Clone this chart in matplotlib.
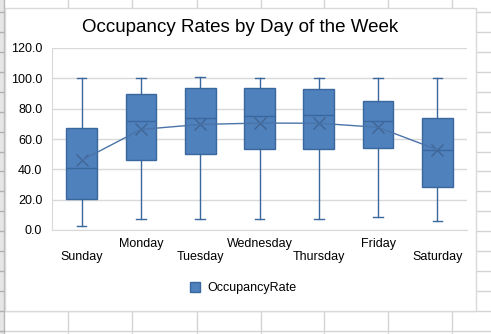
import matplotlib.pyplot as plt
import numpy as np
from matplotlib.lines import Line2D
from matplotlib.patches import Rectangle, Patch

plt.rcParams['font.family'] = ['Liberation Sans', 'DejaVu Sans']

# Data
days = ["Sunday", "Monday", "Tuesday", "Wednesday", "Thursday", "Friday", "Saturday"]
whisker_low = [2.4, 7.2, 7.2, 7.2, 7.2, 8.3, 5.7]
q1 = [20.6, 45.9, 49.9, 53.2, 53.2, 53.8, 28.1]
median = [40.7, 71.6, 73.6, 75.1, 75.6, 71.6, 52.5]
q3 = [67.0, 89.4, 93.4, 93.4, 92.7, 85.0, 73.6]
whisker_high = [100.0, 100.0, 100.6, 100.0, 100.0, 100.0, 100.0]
mean = [45.9, 66.3, 69.6, 70.5, 70.4, 67.7, 52.9]

W, H = 491, 334
fig = plt.figure(figsize=(W / 100, H / 100), dpi=100)


def fx(x):
    return x / W


def fy(y):
    return 1 - y / H


# spreadsheet grid behind the chart
grid_c = "#d4d4d4"
for x in [68, 132, 197, 261, 324, 388, 452]:
    fig.add_artist(Line2D([fx(x), fx(x)], [0, 1], color=grid_c, lw=1,
                          transform=fig.transFigure, zorder=-3))
for y in np.arange(12, 340, 19.93):
    fig.add_artist(Line2D([0, 1], [fy(y), fy(y)], color=grid_c, lw=1,
                          transform=fig.transFigure, zorder=-3))
fig.add_artist(Rectangle((0, 0), fx(4), 1, facecolor="#e6e6e6", edgecolor="none",
                         transform=fig.transFigure, zorder=-2.5))
fig.add_artist(Line2D([fx(4), fx(4)], [0, 1], color="#b8b8b8", lw=1,
                      transform=fig.transFigure, zorder=-2.4))
for y in np.arange(12, 340, 19.93):
    fig.add_artist(Line2D([0, fx(4)], [fy(y), fy(y)], color="#b0b0b0", lw=1,
                          transform=fig.transFigure, zorder=-2.3))

# chart area
fig.add_artist(Rectangle((fx(5), fy(311)), fx(476) - fx(5), fy(7.5) - fy(311),
                         facecolor="white", edgecolor="#d9d9d9", lw=1,
                         transform=fig.transFigure, zorder=-1))

ax = fig.add_axes([fx(52), fy(230), fx(467) - fx(52), fy(48) - fy(230)])
ax.set_facecolor("none")

box_c = "#4f81bd"
edge_c = "#3a679c"
x = np.arange(len(days))

stats = []
for i in range(len(days)):
    stats.append({"whislo": whisker_low[i], "q1": q1[i], "med": median[i],
                  "q3": q3[i], "whishi": whisker_high[i], "mean": mean[i],
                  "fliers": []})

ax.bxp(stats, positions=x, widths=0.52, patch_artist=True, showmeans=True,
       showfliers=False, capwidths=0.16,
       boxprops=dict(facecolor=box_c, edgecolor=edge_c, lw=1),
       whiskerprops=dict(color=edge_c, lw=1),
       capprops=dict(color=edge_c, lw=1),
       medianprops=dict(color=edge_c, lw=1),
       meanprops=dict(marker="x", markersize=9, markeredgecolor="#3f6596",
                      markeredgewidth=1, linestyle="none"),
       zorder=3)
ax.plot(x, mean, color="#4a74a8", lw=1, zorder=4)

ax.set_xlim(-0.5, 6.5)
ax.set_ylim(0, 120)
ax.set_yticks(np.arange(0, 121, 20))
ax.set_yticklabels([f"{v:.1f}" for v in np.arange(0, 121, 20)])
ax.set_xticks(x)
ax.set_xticklabels([("\n" + d) if i % 2 == 0 else d for i, d in enumerate(days)])
ax.tick_params(axis="both", length=0, labelsize=9, colors="black")
ax.tick_params(axis="y", pad=7)
ax.tick_params(axis="x", pad=5.5)
ax.grid(axis="y", color="#d9d9d9", lw=1, zorder=0)
ax.set_axisbelow(True)
for s in ["top", "right"]:
    ax.spines[s].set_visible(False)
for s in ["left", "bottom"]:
    ax.spines[s].set_color("#d9d9d9")

fig.text(fx(240.5), fy(32.5), "Occupancy Rates by Day of the Week", fontsize=13.5,
         ha="center", va="baseline")

fig.legend(handles=[Patch(facecolor=box_c, edgecolor=edge_c, label="OccupancyRate")],
           loc="center", bbox_to_anchor=(fx(243), fy(288)), frameon=False,
           fontsize=9, handlelength=0.8, handleheight=0.8, handletextpad=0.6)

fig.savefig("out.png", dpi=100)
